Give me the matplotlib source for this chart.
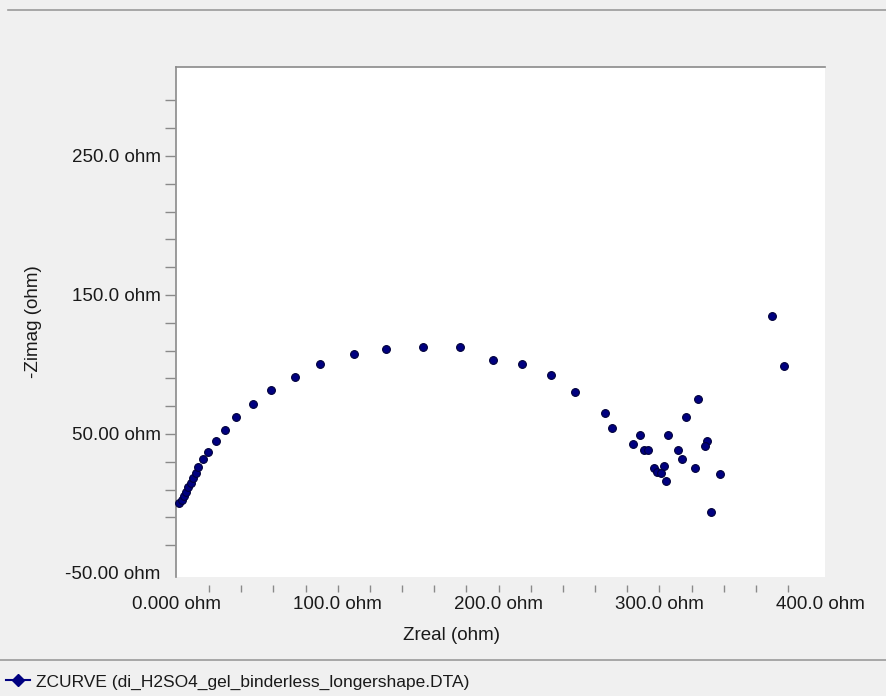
import numpy as np
import matplotlib.pyplot as plt
from matplotlib.lines import Line2D
from matplotlib.ticker import FixedLocator

# Nyquist data (ohm)
zreal = [1.4, 2.9, 4.4, 5.6, 7.0, 8.5, 10.2, 11.8, 13.3, 16.0, 19.5, 24.3,
         29.9, 36.8, 47.2, 58.4, 73.1, 88.8, 109.8, 130.2, 153.1, 175.9,
         196.4, 214.8, 232.8, 247.8, 266.0, 270.8, 287.9, 283.3, 290.5, 293.0,
         324.2, 316.5, 305.1, 329.6, 328.5, 311.7, 314.0, 296.8, 302.6, 298.4,
         300.9, 304.0, 322.1, 337.9, 332.1, 370.1, 377.8]
zimag = [0.1, 2.5, 5.4, 8.5, 11.7, 15.0, 18.1, 21.7, 26.5, 32.0, 37.3, 45.2,
         52.9, 62.0, 71.4, 81.9, 91.2, 100.4, 107.3, 110.9, 112.6, 112.6,
         103.1, 100.4, 92.4, 80.4, 64.9, 54.4, 49.3, 42.6, 38.5, 38.5,
         75.4, 62.5, 49.3, 45.2, 41.4, 38.5, 31.8, 25.8, 27.0, 22.9,
         21.7, 16.2, 25.3, 21.4, -6.3, 134.9, 98.9]

x_ticks = [0, 100, 200, 300, 400]
x_labels = ['0.000 ohm', '100.0 ohm', '200.0 ohm', '300.0 ohm', '400.0 ohm']
y_ticks = [-50, 50, 150, 250]
y_labels = ['-50.00 ohm', '50.00 ohm', '150.0 ohm', '250.0 ohm']
curve_name = 'ZCURVE (di_H2SO4_gel_binderless_longershape.DTA)'

plt.rcParams['font.family'] = ['Liberation Sans', 'DejaVu Sans']
fs = 13.5
txt = '#1a1a1a'
grey = '#8a8a8a'

W, H = 887, 696
fig = plt.figure(figsize=(W / 100, H / 100), dpi=100, facecolor='#f0f0f0')
ax = fig.add_axes([176 / W, 1 - 577 / H, (825 - 176) / W, (577 - 67) / H])
ax.set_facecolor('white')

navy = '#000080'
ax.plot(zreal, zimag, 'o', color=navy, mec='#00003a', mew=0.8, ms=5.6,
        zorder=3, clip_on=False)

ax.set_xlim(-0.6, 403)
ax.set_ylim(-52.9, 314)

# labels only on the major ticks, tick marks every 20 ohm inside the range
ax.set_xticks(x_ticks, labels=x_labels)
ax.set_yticks(y_ticks, labels=y_labels)
ax.xaxis.set_minor_locator(FixedLocator(np.arange(20, 400, 20)))
ax.yaxis.set_minor_locator(FixedLocator(np.arange(-30, 300, 20)))
ax.xaxis.remove_overlapping_locs = False
ax.yaxis.remove_overlapping_locs = False
ax.tick_params(which='major', length=0, labelsize=fs, labelcolor=txt)
ax.tick_params(axis='x', which='major', pad=8)
ax.tick_params(axis='y', which='major', pad=10)
ax.tick_params(axis='x', which='minor', direction='out', length=5, width=1,
               color=grey)
ax.tick_params(axis='y', which='minor', direction='out', length=7, width=1,
               color=grey)

ax.spines['bottom'].set_position(('outward', 6))
ax.spines['left'].set_position(('outward', 1))
for side in ('bottom', 'right', 'left'):
    ax.spines[side].set_visible(False)
ax.spines['top'].set_color(grey)
ax.spines['top'].set_linewidth(1.2)
# the left frame line sits on the plot area edge
ax.add_artist(Line2D([0, 0], [0, 1], transform=ax.transAxes, color=grey,
                     lw=1.2, clip_on=False))

fig.text(452 / W, 1 - 636 / H, 'Zreal (ohm)', ha='center', va='center',
         fontsize=fs, color=txt)
fig.text(33 / W, 1 - 322 / H, '-Zimag (ohm)', ha='center', va='center',
         rotation=90, fontsize=fs, color=txt)

# frame lines of the panel
fig.add_artist(Line2D([8 / W, 1], [1 - 10 / H] * 2, color='#9a9a9a', lw=1.2))
fig.add_artist(Line2D([0, 1], [1 - 660 / H] * 2, color='#9a9a9a', lw=1.2))

handle = Line2D([], [], color=navy, marker='D', ms=6, lw=1.5)
fig.legend([handle], [curve_name], loc='center left',
           bbox_to_anchor=(-0.005, 1 - 682 / H), frameon=False, fontsize=12.5,
           handlelength=1.4, handletextpad=0.35, borderaxespad=0.2,
           labelcolor=txt)

fig.savefig('out.png', dpi=100, facecolor=fig.get_facecolor())
